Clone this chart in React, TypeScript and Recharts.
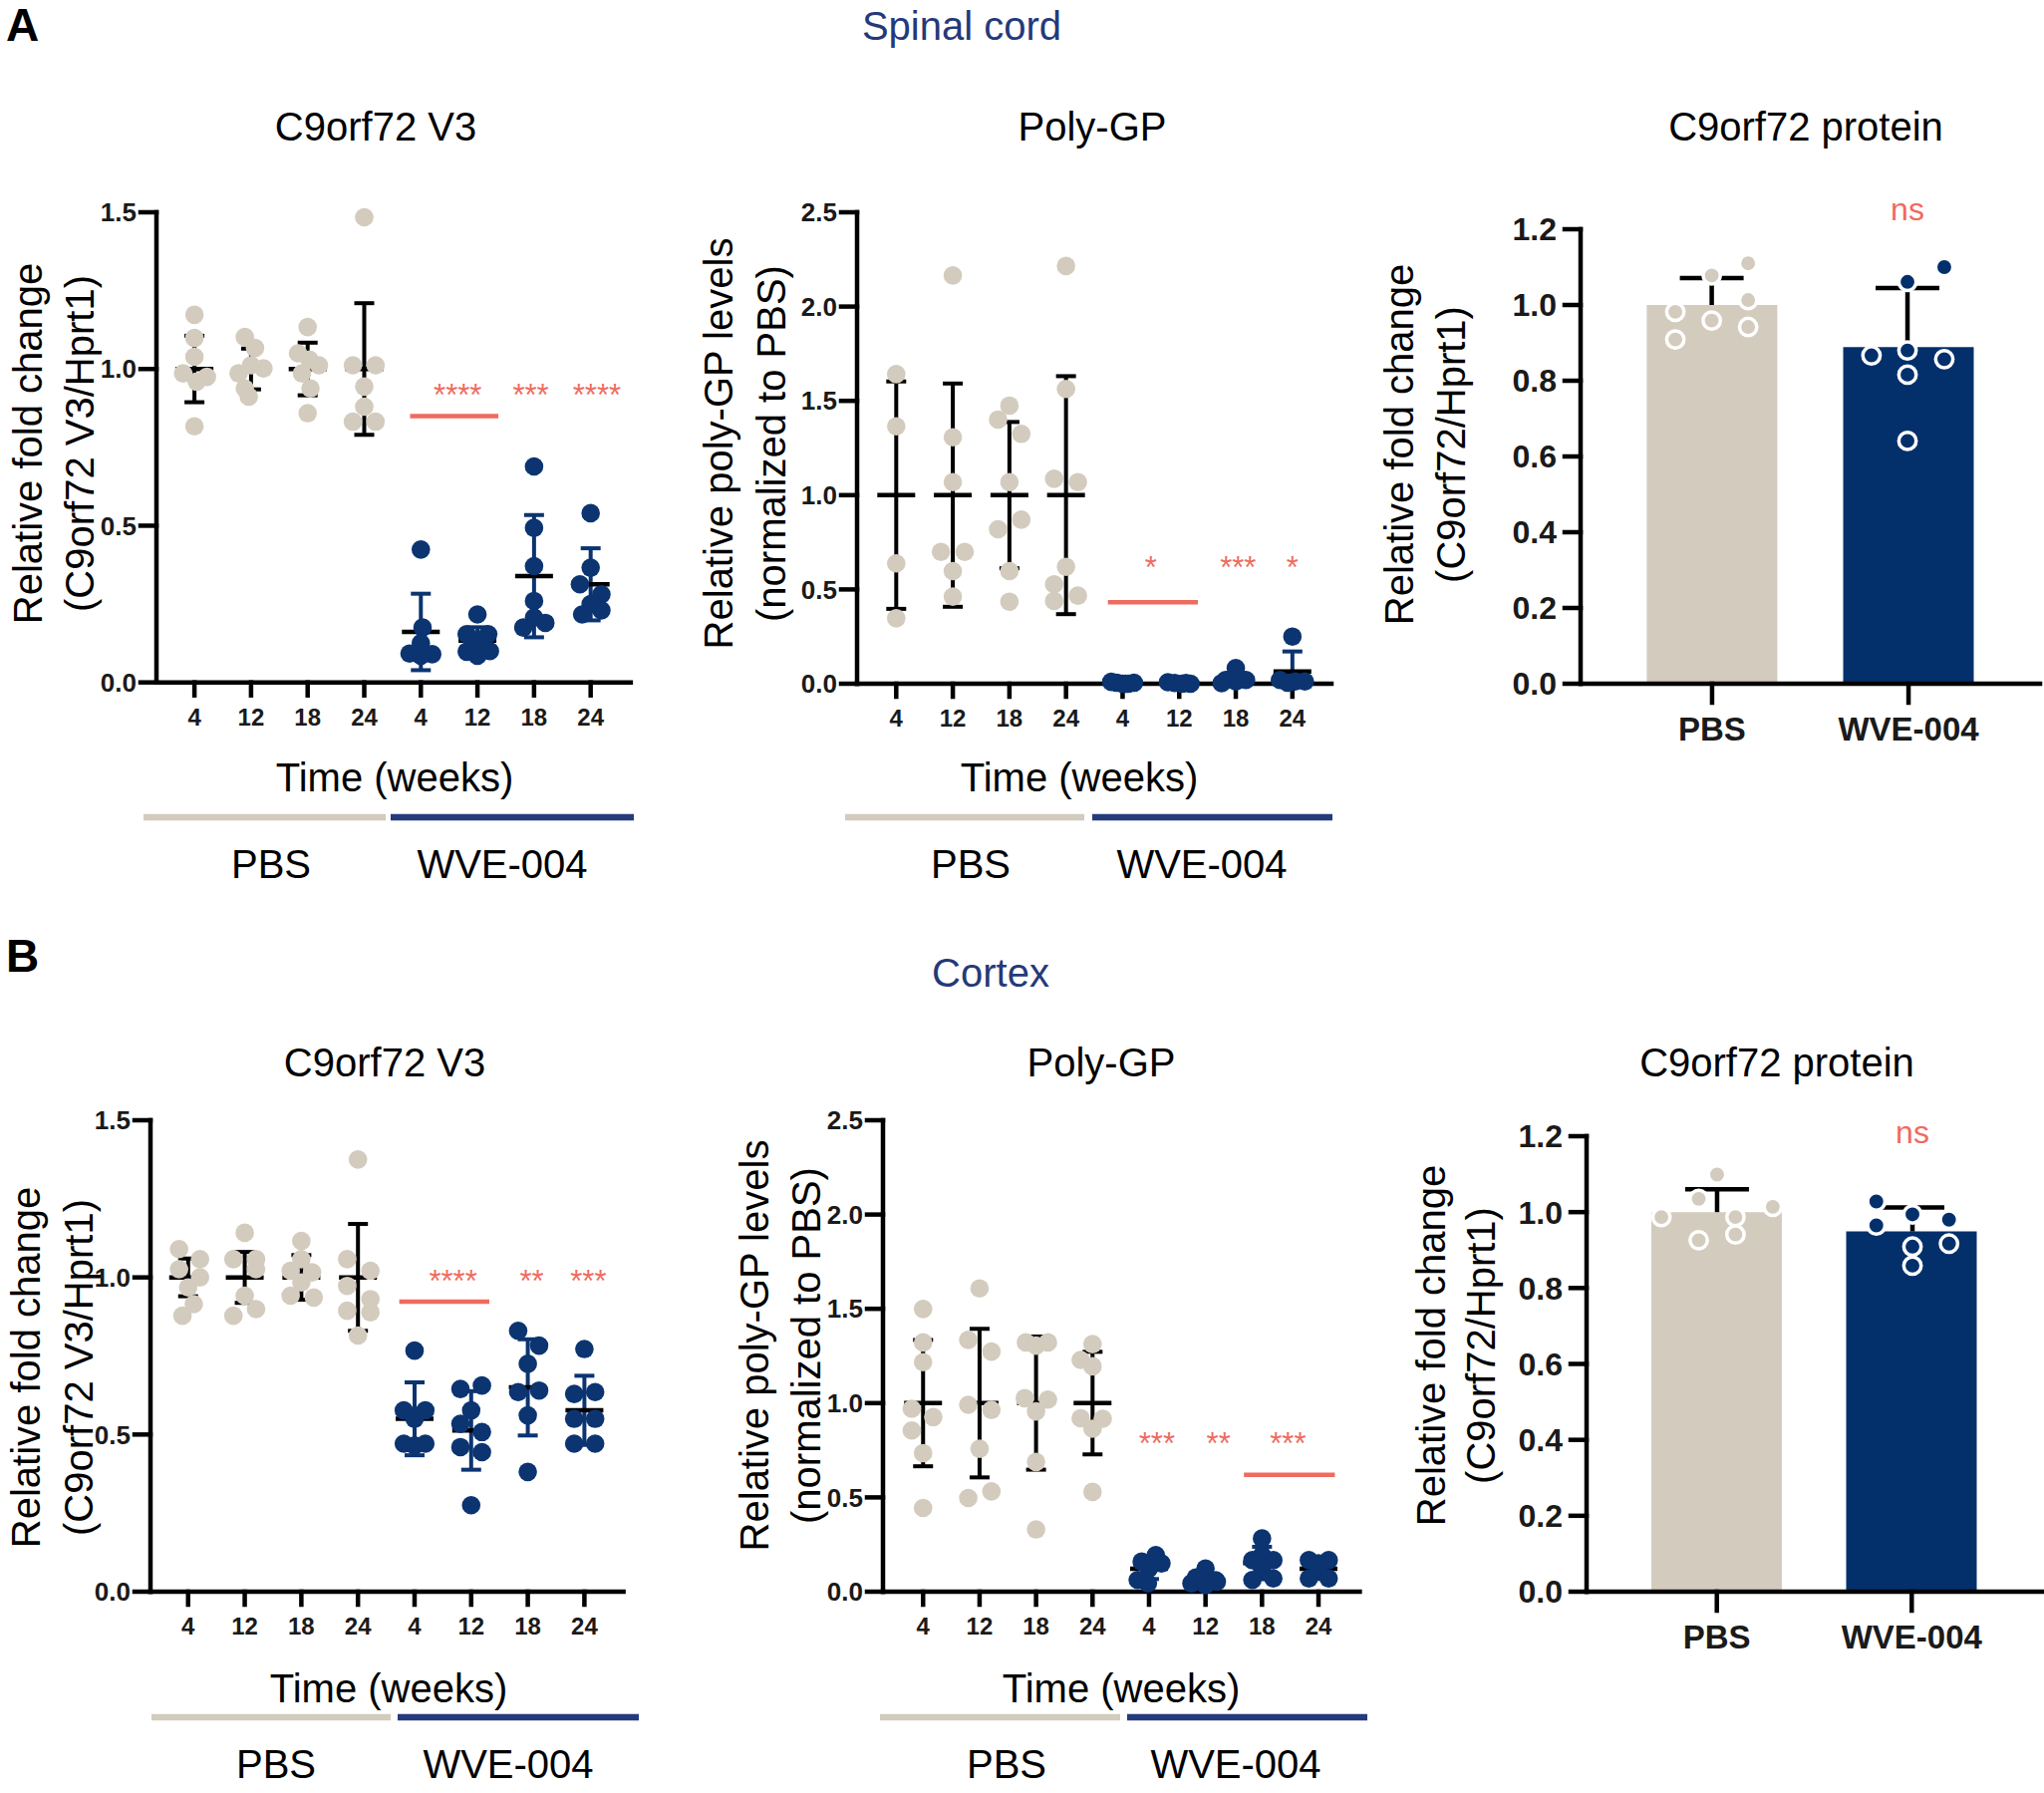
import React from "react";
import {
  ScatterChart,
  ComposedChart,
  Scatter,
  Bar,
  Cell,
  XAxis,
  YAxis,
  ErrorBar,
  ReferenceLine,
  ReferenceDot,
} from "recharts";

const FONT = "'Liberation Sans', Arial, Helvetica, sans-serif";
const BEIGE = "#d3cbbd";
const NAVY = "#0b3471";
const BAR_NAVY = "#03306b";
const RED = "#ef6b5e";
const HEAD_NAVY = "#25397a";
const LINE_NAVY = "#263b7c";

const weekLabels = ["4", "12", "18", "24", "4", "12", "18", "24"];
const treatments = ["PBS", "WVE-004"];

// ---- A: spinal cord, C9orf72 V3 (groups 0-3 PBS, 4-7 WVE-004)
const scV3Values = [
  [1.173, 1.099, 1.039, 0.986, 0.975, 0.96, 0.817],
  [1.102, 1.067, 0.986, 1.002, 1.012, 0.938, 0.912],
  [1.134, 1.05, 1.03, 1.012, 0.986, 0.938, 0.859],
  [1.484, 1.012, 1.012, 0.944, 0.88, 0.832, 0.832],
  [0.424, 0.175, 0.125, 0.092, 0.09, 0.085],
  [0.217, 0.154, 0.154, 0.13, 0.098, 0.1, 0.085],
  [0.689, 0.493, 0.371, 0.26, 0.207, 0.19, 0.175],
  [0.54, 0.366, 0.313, 0.281, 0.25, 0.23, 0.217],
];
const scV3Jitter = [
  [0, 0, 0, -0.2, 0.22, 0.04, 0],
  [-0.11, 0.07, -0.22, 0.22, 0, -0.11, -0.04],
  [0, -0.17, 0.03, 0.2, -0.1, 0.05, 0],
  [0, -0.2, 0.2, 0, 0, -0.2, 0.2],
  [0, 0.03, 0, -0.2, 0.2, 0],
  [0, -0.19, 0.19, 0, -0.19, 0.22, 0],
  [0, 0, 0, 0, 0, 0.2, -0.19],
  [0, 0, -0.19, 0.19, 0, 0.19, -0.15],
];
const scV3Means = [1, 1, 1, 1, 0.161, 0.133, 0.339, 0.313];
const scV3Sd = [0.106, 0.065, 0.084, 0.21, 0.122, 0.043, 0.195, 0.115];

// ---- A: spinal cord, poly-GP
const scGpValues = [
  [1.642, 1.365, 0.638, 0.347],
  [2.165, 1.307, 1.069, 0.699, 0.699, 0.597, 0.462],
  [1.475, 1.401, 1.325, 1.069, 0.87, 0.819, 0.597, 0.435],
  [2.215, 1.563, 1.087, 1.069, 0.62, 0.527, 0.439, 0.467],
  [0.01, 0.005, 0, 0, 0.005, 0],
  [0.008, 0.004, 0, 0, 0.004],
  [0.083, 0.02, 0.02, 0.012, 0.003],
  [0.25, 0.02, 0.012, 0.012, 0.005],
];
const scGpJitter = [
  [0, 0, 0, 0],
  [0, 0, 0, -0.21, 0.21, 0, 0],
  [0, -0.2, 0.21, 0, 0.21, -0.2, 0, 0],
  [0, 0, -0.21, 0.21, 0, -0.21, -0.21, 0.21],
  [-0.2, -0.1, 0, 0.1, 0.2, 0.05],
  [-0.2, -0.08, 0.05, 0.2, 0.12],
  [0, -0.18, 0.18, 0, -0.25],
  [0, -0.22, 0.22, 0.05, -0.08],
];
const scGpMeans = [1, 1, 1, 1, 0.003, 0.003, 0.028, 0.065];
const scGpSd = [0.603, 0.592, 0.388, 0.631, 0.004, 0.004, 0.03, 0.106];

// ---- A: spinal cord, C9orf72 protein
const scProtPbs = [1.078, 1.11, 0.982, 1.013, 0.959, 0.942, 0.909];
const scProtPbsJitter = [0, 0.186, -0.186, 0.186, 0, 0.186, -0.186];
const scProtWve = [1.1, 1.061, 0.867, 0.88, 0.857, 0.816, 0.641];
const scProtWveJitter = [0.188, 0, -0.184, 0, 0.188, 0, 0];
const scProtMeans = [1.0, 0.889];
const scProtSd = [0.071, 0.156];

// ---- B: cortex, C9orf72 V3
const cxV3Values = [
  [1.09, 1.058, 1.026, 1.0, 0.968, 0.915, 0.878],
  [1.142, 1.058, 1.058, 1.026, 0.942, 0.878, 0.899],
  [1.116, 1.058, 1.021, 1.016, 0.984, 0.942, 0.936],
  [1.375, 1.058, 1.021, 0.973, 0.931, 0.894, 0.889, 0.815],
  [0.767, 0.577, 0.577, 0.55, 0.471, 0.471, 0.465],
  [0.656, 0.645, 0.577, 0.534, 0.508, 0.46, 0.444, 0.275],
  [0.83, 0.783, 0.725, 0.635, 0.64, 0.561, 0.381],
  [0.772, 0.629, 0.635, 0.55, 0.55, 0.471, 0.471],
];
const cxV3Jitter = [
  [-0.16, 0.21, -0.16, 0.21, 0, 0.1, -0.1],
  [0, -0.2, 0.2, 0.2, 0, -0.2, 0.2],
  [0, 0, -0.19, 0.19, 0, -0.19, 0.22],
  [0, -0.19, 0.22, -0.19, 0.22, -0.19, 0.22, 0],
  [0, -0.19, 0.19, 0, -0.19, 0.19, 0],
  [0.19, -0.19, 0, -0.19, 0.19, -0.19, 0.19, 0],
  [-0.17, 0.2, 0, -0.17, 0.2, 0, 0],
  [0, -0.18, 0.19, -0.18, 0.19, -0.18, 0.19],
];
const cxV3Means = [1, 1, 1, 1, 0.55, 0.513, 0.65, 0.577];
const cxV3Sd = [0.06, 0.081, 0.071, 0.17, 0.116, 0.125, 0.153, 0.11];

// ---- B: cortex, poly-GP
const cxGpValues = [
  [1.499, 1.322, 1.217, 0.97, 0.926, 0.855, 0.735, 0.444],
  [1.608, 1.335, 1.273, 0.991, 0.964, 0.758, 0.532, 0.497],
  [1.322, 1.322, 1.305, 1.026, 1.019, 0.956, 0.688, 0.33],
  [1.313, 1.229, 1.195, 0.92, 0.917, 0.864, 0.529],
  [0.194, 0.159, 0.15, 0.123, 0.062, 0.044],
  [0.123, 0.075, 0.06, 0.053, 0.044, 0.035],
  [0.282, 0.194, 0.167, 0.167, 0.123, 0.07, 0.062],
  [0.167, 0.167, 0.15, 0.106, 0.07, 0.07],
];
const cxGpJitter = [
  [0, 0, 0, -0.2, 0.18, -0.2, 0, 0],
  [0, -0.2, 0.21, -0.2, 0.21, 0, 0.21, -0.2],
  [-0.18, 0.21, 0, -0.2, 0.21, 0, 0, 0],
  [0, -0.21, 0, -0.21, 0.18, 0, 0],
  [0.12, -0.13, 0.22, 0, -0.2, -0.02],
  [0, -0.17, 0.18, 0.2, -0.25, 0],
  [0, 0, -0.17, 0.2, 0, 0.2, -0.17],
  [-0.17, 0.18, 0, 0, -0.17, 0.18],
];
const cxGpMeans = [1, 1, 1, 1, 0.122, 0.065, 0.152, 0.122];
const cxGpSd = [0.335, 0.394, 0.353, 0.272, 0.055, 0.03, 0.086, 0.045];

// ---- B: cortex, C9orf72 protein
const cxProtPbs = [1.099, 1.035, 1.014, 0.987, 0.987, 0.926, 0.941];
const cxProtPbsJitter = [0, -0.094, 0.285, -0.285, 0.094, -0.094, 0.094];
const cxProtWve = [1.028, 0.994, 0.965, 0.98, 0.909, 0.917, 0.859];
const cxProtWveJitter = [-0.185, 0, -0.185, 0.187, 0, 0.187, 0];
const cxProtMeans = [1.0, 0.949];
const cxProtSd = [0.06, 0.063];

// significance marks (x in group units, y in data units)
const scV3Sig = { x1: 3.81, x2: 5.37, y: 0.85 };
const scV3Stars = [
  { x: 4.65, y: 0.94, t: "****" },
  { x: 5.94, y: 0.94, t: "***" },
  { x: 7.11, y: 0.94, t: "****" },
];
const scGpSig = { x1: 3.74, x2: 5.33, y: 0.432 };
const scGpStars = [
  { x: 4.5, y: 0.655, t: "*" },
  { x: 6.04, y: 0.655, t: "***" },
  { x: 7.0, y: 0.655, t: "*" },
];
const cxV3Sig = { x1: 3.73, x2: 5.32, y: 0.923 };
const cxV3Stars = [
  { x: 4.68, y: 1.013, t: "****" },
  { x: 6.07, y: 1.013, t: "**" },
  { x: 7.07, y: 1.013, t: "***" },
];
const cxGpSig = { x1: 5.68, x2: 7.29, y: 0.62 };
const cxGpStars = [
  { x: 4.14, y: 0.825, t: "***" },
  { x: 5.23, y: 0.825, t: "**" },
  { x: 6.46, y: 0.825, t: "***" },
];

function toPoints(values: number[][], jitter: number[][], from: number, to: number) {
  const out: { x: number; y: number }[] = [];
  for (let g = from; g < to; g++) {
    values[g].forEach((v, k) => out.push({ x: g + jitter[g][k], y: v }));
  }
  return out;
}

function toSummary(means: number[], sd: number[], from: number, to: number) {
  const out: { x: number; y: number; err: number[] }[] = [];
  for (let g = from; g < to; g++) {
    out.push({ x: g, y: means[g], err: [Math.min(sd[g], means[g]), sd[g]] });
  }
  return out;
}

function makeTicks(max: number, step: number) {
  const t: number[] = [];
  for (let i = 0; i * step <= max + 1e-9; i++) t.push(+(i * step).toFixed(2));
  return t;
}

const axisStroke = { stroke: "#000", strokeWidth: 4.5, strokeLinecap: "square" as const };

const meanShape = (p: any) => (
  <line x1={p.cx - 19} x2={p.cx + 19} y1={p.cy} y2={p.cy} stroke="#000" strokeWidth={4.5} />
);
const dotShape = (fill: string) => (p: any) => <circle cx={p.cx} cy={p.cy} r={9.3} fill={fill} />;
const ringShape = (fill: string) => (p: any) => (
  <circle cx={p.cx} cy={p.cy} r={8.7} fill={fill} stroke="#fff" strokeWidth={3.5} />
);
// upper SD whisker of a bar: the top point carries the cap
const capShape = (p: any) =>
  p.payload && p.payload.cap ? (
    <line x1={p.cx - 32} x2={p.cx + 32} y1={p.cy} y2={p.cy} stroke="#000" strokeWidth={4.5} />
  ) : (
    <g />
  );

type Geo = { L: number; R: number; T: number; B: number; xDomain: [number, number] };

function DotPanel({
  geo,
  values,
  jitter,
  means,
  sd,
  yMax,
  sig,
  stars,
}: {
  geo: Geo;
  values: number[][];
  jitter: number[][];
  means: number[];
  sd: number[];
  yMax: number;
  sig: { x1: number; x2: number; y: number };
  stars: { x: number; y: number; t: string }[];
}) {
  const yw = 110,
    mT = 60,
    mR = 20,
    xh = 90;
  const width = geo.R - geo.L + yw + mR;
  const height = geo.B - geo.T + mT + xh;
  return (
    <div style={{ position: "absolute", left: geo.L - yw, top: geo.T - mT }}>
      <ScatterChart width={width} height={height} margin={{ top: mT, right: mR, bottom: 0, left: 0 }}>
        <XAxis
          type="number"
          dataKey="x"
          domain={geo.xDomain}
          ticks={[0, 1, 2, 3, 4, 5, 6, 7]}
          interval={0}
          tickFormatter={(i: number) => weekLabels[Math.round(i)]}
          height={xh}
          axisLine={axisStroke}
          tickLine={axisStroke}
          tickSize={13}
          tickMargin={13}
          tick={{ fill: "#1a1a1a", fontSize: 24, fontWeight: 700, fontFamily: FONT }}
        />
        <YAxis
          type="number"
          dataKey="y"
          domain={[0, yMax]}
          ticks={makeTicks(yMax, 0.5)}
          interval={0}
          tickFormatter={(v: number) => v.toFixed(1)}
          width={yw}
          axisLine={axisStroke}
          tickLine={axisStroke}
          tickSize={16}
          tickMargin={4}
          tick={{ fill: "#1a1a1a", fontSize: 26, fontWeight: 700, fontFamily: FONT }}
        />
        <ReferenceLine
          segment={[
            { x: sig.x1, y: sig.y },
            { x: sig.x2, y: sig.y },
          ]}
          stroke={RED}
          strokeWidth={4.5}
        />
        <Scatter data={toSummary(means, sd, 0, 4)} shape={meanShape} isAnimationActive={false}>
          <ErrorBar dataKey="err" direction="y" width={10} stroke="#000" strokeWidth={4} />
        </Scatter>
        <Scatter data={toSummary(means, sd, 4, 8)} shape={meanShape} isAnimationActive={false}>
          <ErrorBar dataKey="err" direction="y" width={10} stroke={NAVY} strokeWidth={4} />
        </Scatter>
        <Scatter data={toPoints(values, jitter, 0, 4)} shape={dotShape(BEIGE)} isAnimationActive={false} />
        <Scatter data={toPoints(values, jitter, 4, 8)} shape={dotShape(NAVY)} isAnimationActive={false} />
        {stars.map((s, i) => (
          <ReferenceDot
            key={i}
            x={s.x}
            y={s.y}
            r={1}
            shape={(p: any) => (
              <text x={p.cx} y={p.cy + 18} textAnchor="middle" fontSize={31} fill={RED} fontFamily={FONT}>
                {s.t}
              </text>
            )}
          />
        ))}
      </ScatterChart>
    </div>
  );
}

function BarPanel({
  geo,
  pbs,
  pbsJitter,
  wve,
  wveJitter,
  means,
  sd,
}: {
  geo: Geo;
  pbs: number[];
  pbsJitter: number[];
  wve: number[];
  wveJitter: number[];
  means: number[];
  sd: number[];
}) {
  const yw = 110,
    mT = 60,
    mR = 20,
    xh = 90;
  const width = geo.R - geo.L + yw + mR;
  const height = geo.B - geo.T + mT + xh;
  const barData = treatments.map((t, i) => ({ name: t, mean: means[i] }));
  const whiskers = means.map((m, i) => [
    { x: i, y: m },
    { x: i, y: m + sd[i], cap: true },
  ]);
  const pbsPts = pbs.map((v, k) => ({ x: pbsJitter[k], y: v }));
  const wvePts = wve.map((v, k) => ({ x: 1 + wveJitter[k], y: v }));
  const unit = (geo.R - geo.L) / (geo.xDomain[1] - geo.xDomain[0]);
  const pad = -geo.xDomain[0] * unit - unit / 2;
  return (
    <div style={{ position: "absolute", left: geo.L - yw, top: geo.T - mT }}>
      <ComposedChart
        width={width}
        height={height}
        data={barData}
        margin={{ top: mT, right: mR, bottom: 0, left: 0 }}
      >
        <XAxis
          xAxisId="cat"
          dataKey="name"
          type="category"
          padding={{ left: pad, right: pad }}
          height={xh}
          interval={0}
          axisLine={axisStroke}
          tickLine={axisStroke}
          tickSize={19}
          tickMargin={15}
          tick={{ fill: "#1a1a1a", fontSize: 33, fontWeight: 700, fontFamily: FONT }}
        />
        <XAxis xAxisId="num" type="number" dataKey="x" domain={geo.xDomain} hide />
        <YAxis
          type="number"
          domain={[0, 1.2]}
          ticks={makeTicks(1.2, 0.2)}
          interval={0}
          tickFormatter={(v: number) => v.toFixed(1)}
          width={yw}
          axisLine={axisStroke}
          tickLine={axisStroke}
          tickSize={16}
          tickMargin={8}
          tick={{ fill: "#1a1a1a", fontSize: 32, fontWeight: 700, fontFamily: FONT }}
        />
        <Bar xAxisId="cat" dataKey="mean" barSize={131} isAnimationActive={false}>
          <Cell fill={BEIGE} />
          <Cell fill={BAR_NAVY} />
        </Bar>
        {whiskers.map((w, i) => (
          <Scatter
            key={i}
            xAxisId="num"
            dataKey="y"
            data={w}
            line={{ stroke: "#000", strokeWidth: 4.5 }}
            shape={capShape}
            isAnimationActive={false}
          />
        ))}
        <Scatter xAxisId="num" dataKey="y" data={pbsPts} shape={ringShape(BEIGE)} isAnimationActive={false} />
        <Scatter xAxisId="num" dataKey="y" data={wvePts} shape={ringShape(BAR_NAVY)} isAnimationActive={false} />
      </ComposedChart>
    </div>
  );
}

const geoA1: Geo = { L: 156.5, R: 632.4, T: 213.3, B: 685, xDomain: [-0.671, 7.708] };
const geoA2: Geo = { L: 860, R: 1336, T: 212.7, B: 685.7, xDomain: [-0.692, 7.69] };
const geoA3: Geo = { L: 1586, R: 2047, T: 230, B: 686, xDomain: [-0.67, 1.677] };
const geoB1: Geo = { L: 151.4, R: 626, T: 1124, B: 1597, xDomain: [-0.665, 7.69] };
const geoB2: Geo = { L: 885.6, R: 1364, T: 1124, B: 1597, xDomain: [-0.71, 7.73] };
const geoB3: Geo = { L: 1592, R: 2049, T: 1140, B: 1597, xDomain: [-0.668, 1.663] };

function YLabel({ x1, x2, cy, l1, l2 }: { x1: number; x2: number; cy: number; l1: string; l2: string }) {
  return (
    <g fontSize={40} fill="#000" textAnchor="middle">
      <text x={x1} y={cy} transform={`rotate(-90 ${x1} ${cy})`}>
        {l1}
      </text>
      <text x={x2} y={cy} transform={`rotate(-90 ${x2} ${cy})`}>
        {l2}
      </text>
    </g>
  );
}

function GroupBar({
  y,
  pbs,
  wve,
  labelY,
  pbsX,
  wveX,
  timeX,
  timeY,
}: {
  y: number;
  pbs: [number, number];
  wve: [number, number];
  labelY: number;
  pbsX: number;
  wveX: number;
  timeX: number;
  timeY: number;
}) {
  return (
    <g fontSize={40} fill="#000" textAnchor="middle">
      <text x={timeX} y={timeY}>
        Time (weeks)
      </text>
      <line x1={pbs[0]} x2={pbs[1]} y1={y} y2={y} stroke={BEIGE} strokeWidth={6.5} />
      <line x1={wve[0]} x2={wve[1]} y1={y} y2={y} stroke={LINE_NAVY} strokeWidth={6.5} />
      <text x={pbsX} y={labelY}>
        {treatments[0]}
      </text>
      <text x={wveX} y={labelY}>
        {treatments[1]}
      </text>
    </g>
  );
}

function Overlay() {
  return (
    <svg
      width={2051}
      height={1799}
      style={{ position: "absolute", left: 0, top: 0, pointerEvents: "none" }}
      fontFamily={FONT}
    >
      <text x={6} y={41} fontSize={46} fontWeight={700}>
        A
      </text>
      <text x={965} y={40} fontSize={40} fill={HEAD_NAVY} textAnchor="middle">
        Spinal cord
      </text>
      <text x={6} y={975} fontSize={46} fontWeight={700}>
        B
      </text>
      <text x={994} y={990} fontSize={40} fill={HEAD_NAVY} textAnchor="middle">
        Cortex
      </text>

      <g fontSize={40} textAnchor="middle">
        <text x={377} y={141}>C9orf72 V3</text>
        <text x={1096} y={141}>Poly-GP</text>
        <text x={1812} y={141}>C9orf72 protein</text>
        <text x={386} y={1080}>C9orf72 V3</text>
        <text x={1105} y={1080}>Poly-GP</text>
        <text x={1783} y={1080}>C9orf72 protein</text>
      </g>

      <YLabel x1={42} x2={94} cy={445} l1="Relative fold change" l2="(C9orf72 V3/Hprt1)" />
      <YLabel x1={735} x2={788} cy={445} l1="Relative poly-GP levels" l2="(normalized to PBS)" />
      <YLabel x1={1418} x2={1470} cy={446} l1="Relative fold change" l2="(C9orf72/Hprt1)" />
      <YLabel x1={40} x2={93} cy={1372} l1="Relative fold change" l2="(C9orf72 V3/Hprt1)" />
      <YLabel x1={771} x2={823} cy={1350} l1="Relative poly-GP levels" l2="(normalized to PBS)" />
      <YLabel x1={1450} x2={1500} cy={1350} l1="Relative fold change" l2="(C9orf72/Hprt1)" />

      <GroupBar y={820} pbs={[144, 387]} wve={[392, 636]} labelY={881} pbsX={272} wveX={504} timeX={396} timeY={794} />
      <GroupBar y={820} pbs={[848, 1088]} wve={[1096, 1337]} labelY={881} pbsX={974} wveX={1206} timeX={1083} timeY={794} />
      <GroupBar y={1723} pbs={[152, 392]} wve={[399, 641]} labelY={1784} pbsX={277} wveX={510} timeX={390} timeY={1708} />
      <GroupBar y={1723} pbs={[883, 1124]} wve={[1131, 1372]} labelY={1784} pbsX={1010} wveX={1240} timeX={1125} timeY={1708} />

      <text x={1914} y={221} fontSize={32} fill={RED} textAnchor="middle">
        ns
      </text>
      <text x={1919} y={1147} fontSize={32} fill={RED} textAnchor="middle">
        ns
      </text>
    </svg>
  );
}

export default function App() {
  return (
    <div
      style={{
        position: "absolute",
        left: 0,
        top: 0,
        width: 2051,
        height: 1799,
        overflow: "hidden",
        background: "#fff",
        fontFamily: FONT,
      }}
    >
      <Overlay />
      <DotPanel geo={geoA1} values={scV3Values} jitter={scV3Jitter} means={scV3Means} sd={scV3Sd} yMax={1.5} sig={scV3Sig} stars={scV3Stars} />
      <DotPanel geo={geoA2} values={scGpValues} jitter={scGpJitter} means={scGpMeans} sd={scGpSd} yMax={2.5} sig={scGpSig} stars={scGpStars} />
      <BarPanel geo={geoA3} pbs={scProtPbs} pbsJitter={scProtPbsJitter} wve={scProtWve} wveJitter={scProtWveJitter} means={scProtMeans} sd={scProtSd} />
      <DotPanel geo={geoB1} values={cxV3Values} jitter={cxV3Jitter} means={cxV3Means} sd={cxV3Sd} yMax={1.5} sig={cxV3Sig} stars={cxV3Stars} />
      <DotPanel geo={geoB2} values={cxGpValues} jitter={cxGpJitter} means={cxGpMeans} sd={cxGpSd} yMax={2.5} sig={cxGpSig} stars={cxGpStars} />
      <BarPanel geo={geoB3} pbs={cxProtPbs} pbsJitter={cxProtPbsJitter} wve={cxProtWve} wveJitter={cxProtWveJitter} means={cxProtMeans} sd={cxProtSd} />
    </div>
  );
}
